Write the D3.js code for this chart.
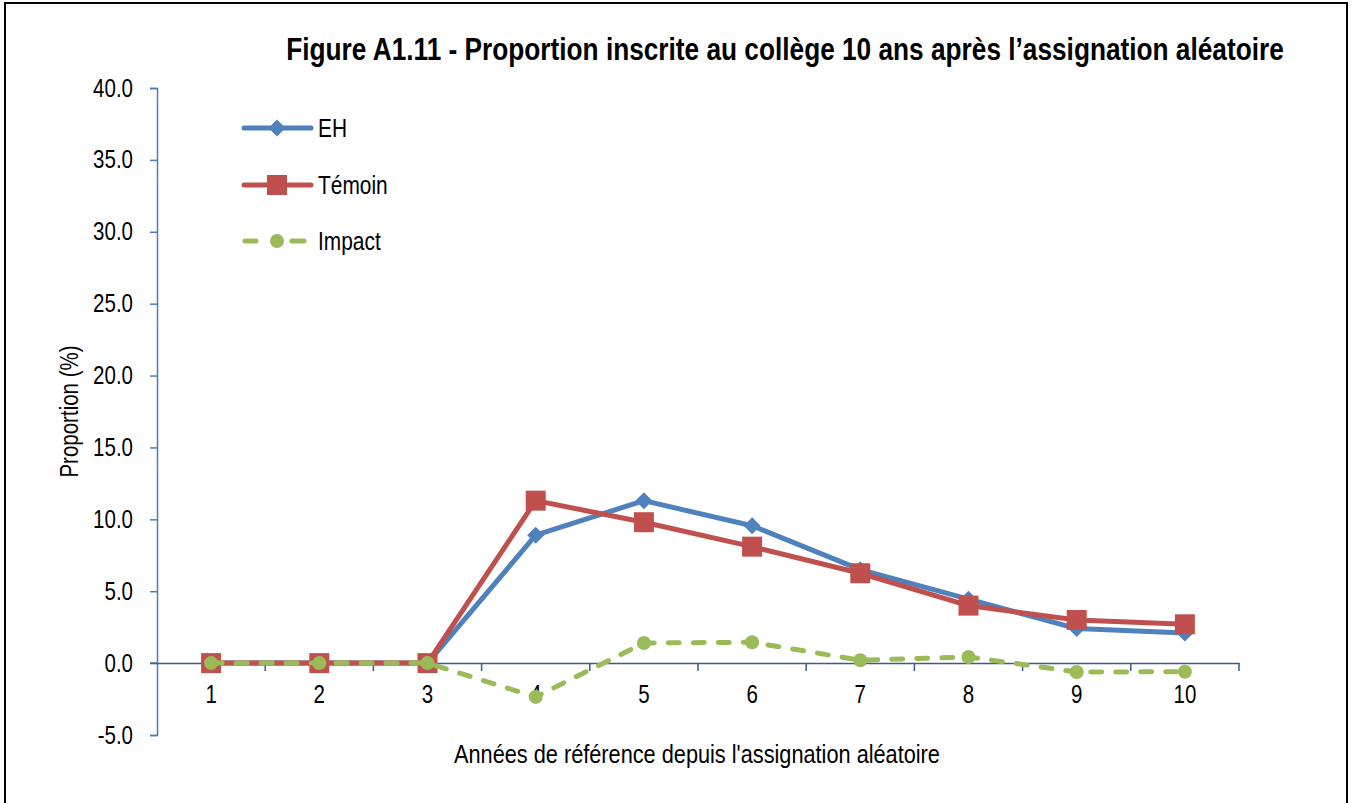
<!DOCTYPE html>
<html><head><meta charset="utf-8">
<script src="https://cdn.jsdelivr.net/npm/d3@7"></script>
<style>
html,body{margin:0;padding:0;background:#fff;}
svg{display:block;}
text{font-family:'Liberation Sans',Arial,sans-serif;fill:#000;}
</style></head>
<body>
<svg id="chart" width="1351" height="803"></svg>
<script>
const categories = ["1","2","3","4","5","6","7","8","9","10"];
const ehValues = [0, 0, 0, 8.9, 11.3, 9.55, 6.5, 4.45, 2.4, 2.1];
const temoinValues = [0, 0, 0, 11.3, 9.8, 8.1, 6.25, 4.0, 3.0, 2.7];
const impactValues = [0, 0, 0, -2.35, 1.4, 1.45, 0.2, 0.43, -0.62, -0.6];
const yTicks = [-5, 0, 5, 10, 15, 20, 25, 30, 35, 40];
const seriesNames = ["EH", "Témoin", "Impact"];
const seriesColors = ["#4f81bd", "#c0504d", "#9bbb59"];

const svg = d3.select("#chart");
const W = 1351, H = 803;
const plotLeft = 157, plotRight = 1239, plotTop = 88, plotBottom = 735;
const NARROW = 0.82; // emulate Arial Narrow
const FS = 25;

svg.append("rect").attr("x",5).attr("y",3).attr("width",W-9).attr("height",H+5)
  .attr("fill","#fff").attr("stroke","#000").attr("stroke-width",2);

const x = d3.scaleBand().domain(categories).range([plotLeft, plotRight]);
const y = d3.scaleLinear().domain([-5, 40]).range([plotBottom, plotTop]);

function narrowText(parent, tx, ty, rot, size, txt, anchor, bold) {
  return parent.append("text")
    .attr("transform", `translate(${tx},${ty})` + (rot ? ` rotate(${rot})` : "") + ` scale(${NARROW},1)`)
    .attr("text-anchor", anchor || "start")
    .style("font-size", size + "px").style("font-weight", bold ? "bold" : "normal")
    .text(txt);
}

// Title
narrowText(svg, 785, 60, 0, 32, "Figure A1.11 - Proportion inscrite au collège 10 ans après l’assignation aléatoire", "middle", true);

// Y axis
const yAxis = d3.axisLeft(y).tickValues(yTicks).tickSize(7).tickPadding(16)
  .tickFormat(d => d3.format(".1f")(d).replace("−","-"));
const yg = svg.append("g").attr("transform",`translate(${plotLeft},0)`).call(yAxis);
yg.select(".domain").attr("stroke","#4a7ebb").attr("stroke-width",1.5);
yg.selectAll(".tick line").attr("stroke","#4a7ebb").attr("stroke-width",1.5);
yg.selectAll(".tick text").style("font-size",FS+"px").attr("fill","#000")
  .attr("x", -24 / NARROW).attr("transform", `scale(${NARROW},1)`);

// X axis at zero
const xAxis = d3.axisBottom(x).tickSize(0).tickPadding(22);
const xg = svg.append("g").attr("transform",`translate(0,${y(0)})`).call(xAxis);
xg.select(".domain").attr("stroke","#385d8a").attr("stroke-width",1.5);
xg.selectAll(".tick text").style("font-size",FS+"px").attr("fill","#000")
  .attr("transform", `scale(${NARROW},1)`);
const bounds = categories.map(c => x(c)).concat([plotRight]).slice(1);
xg.selectAll(".bt").data(bounds).enter().append("line")
  .attr("x1", d=>d).attr("x2", d=>d).attr("y1",0).attr("y2",8)
  .attr("stroke","#385d8a").attr("stroke-width",1.5);
svg.append("line").attr("x1",plotLeft-7).attr("x2",plotLeft).attr("y1",y(0)).attr("y2",y(0))
  .attr("stroke","#385d8a").attr("stroke-width",1.5);

// Axis titles
narrowText(svg, 78, (plotTop+plotBottom)/2, -90, FS, "Proportion (%)", "middle");
narrowText(svg, 697, 763, 0, 26.5, "Années de référence depuis l'assignation aléatoire", "middle");

const cx = d => x(d) + x.bandwidth()/2;
const line = d3.line().x((d,i)=>cx(categories[i])).y(d=>y(d));

const allSeries = [ehValues, temoinValues, impactValues];

function drawMarker(g, type, color, px, py) {
  if (type === 0) {
    const s = 8.5;
    g.append("path").attr("d",`M${px},${py-s}L${px+s},${py}L${px},${py+s}L${px-s},${py}Z`).attr("fill",color);
  } else if (type === 1) {
    const s = 10;
    g.append("rect").attr("x",px-s).attr("y",py-s).attr("width",2*s).attr("height",2*s).attr("fill",color);
  } else {
    g.append("circle").attr("cx",px).attr("cy",py).attr("r",7).attr("fill",color);
  }
}

allSeries.forEach((vals, si) => {
  const g = svg.append("g");
  g.append("path").datum(vals).attr("d", line).attr("fill","none")
    .attr("stroke", seriesColors[si]).attr("stroke-width",5)
    .attr("stroke-linejoin","round").attr("stroke-linecap","round")
    .attr("stroke-dasharray", si===2 ? "11,14" : null);
  vals.forEach((v,i) => drawMarker(g, si, seriesColors[si], cx(categories[i]), y(v)));
});

// Legend
const legY = [128, 185, 241];
seriesNames.forEach((n, si) => {
  const g = svg.append("g");
  if (si === 2) {
    g.append("line").attr("x1",245).attr("x2",256).attr("y1",legY[si]).attr("y2",legY[si])
      .attr("stroke",seriesColors[si]).attr("stroke-width",5).attr("stroke-linecap","round");
    g.append("line").attr("x1",292).attr("x2",304).attr("y1",legY[si]).attr("y2",legY[si])
      .attr("stroke",seriesColors[si]).attr("stroke-width",5).attr("stroke-linecap","round");
  } else {
    g.append("line").attr("x1",244).attr("x2",311).attr("y1",legY[si]).attr("y2",legY[si])
      .attr("stroke",seriesColors[si]).attr("stroke-width",5).attr("stroke-linecap","round");
  }
  drawMarker(g, si, seriesColors[si], 277, legY[si]);
  narrowText(g, 318, legY[si] + 9, 0, 25.5, n, "start");
});
</script>
</body></html>
